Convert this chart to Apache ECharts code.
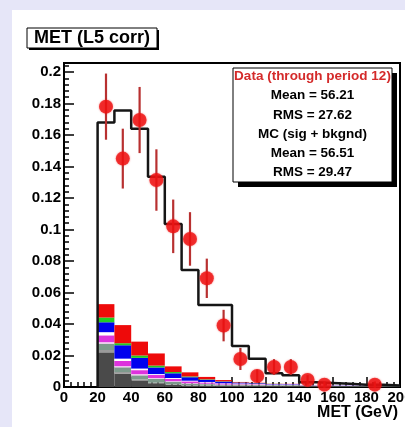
<!DOCTYPE html>
<html><head><meta charset="utf-8">
<script src="https://cdn.jsdelivr.net/npm/echarts@6/dist/echarts.min.js"></script>
<style>
html,body{margin:0;padding:0;background:#e6e6f8;width:405px;height:427px;overflow:hidden}
#panel{position:absolute;left:12px;top:10px;width:393px;height:417px;background:#fff}
#chart{position:absolute;left:0;top:0;width:405px;height:427px}
</style></head><body>
<div id="panel"></div><div id="chart"></div>
<script>
// ---- data ----
const binLowEdges = [20,30,40,50,60,70,80,90,100,110,120,130,140,150,160,170,180,190];
const binWidth = 10;
const mcTotal = [0.168,0.1755,0.164,0.1335,0.1035,0.0743,0.052,0.052,0.026,0.018,0.0088,0.0075,0.003,0.0025,0.002,0.0015,0.0015,0.001];
const dataValues = [0.178,0.145,0.1695,0.1314,0.102,0.094,0.069,0.039,0.0178,0.007,0.0127,0.0127,0.0045,0.0015,null,null,0.0015,null];
const dataErrors = [0.021,0.019,0.021,0.0195,0.017,0.017,0.0125,0.010,0.007,0.004,0.005,0.005,0.003,0.002,null,null,0.002,null];
// stacked background components, bottom to top
const bkgDarkGray = [0.022,0.0085,0.0042,0.0024,0.0014,0.0009,0.0008,0.0006,0.0008,0.0007,0.0006,0.0006,0.0005,0.0004,0.0004,0.0003,0.0003,0.0003];
const bkgGray     = [0.0015,0.001,0.0006,0.0004,0.0003,0.0002,0.0002,0.0002,0.0002,0.0002,0.0002,0.0002,0.0001,0.0001,0.0001,0.0001,0.0001,0.0001];
const bkgTeal     = [0.004,0.003,0.0026,0.0024,0.0016,0.001,0.0008,0.0006,0.0005,0.0004,0.0004,0.0004,0.0003,0.0002,0.0002,0.0002,0.0002,0.0002];
const bkgPink     = [0.001,0.0008,0.0008,0.0005,0.0004,0.0003,0.0003,0.0002,0.0002,0.0002,0.0002,0.0002,0.0001,0.0001,0.0001,0.0001,0.0001,0.0001];
const bkgMagenta  = [0.0043,0.0032,0.0025,0.0019,0.0015,0.0012,0.0008,0.0006,0.0004,0.0003,0.0002,0.0002,0.0001,0.0001,0.0001,0.0001,0.0001,0.0001];
const bkgWhite    = [0.002,0.0015,0.001,0.0006,0.0005,0.0004,0.0003,0.0002,0.0002,0.0002,0.0001,0.0001,0.0001,0.0001,0.0001,0.0001,0.0001,0.0001];
const bkgBlue     = [0.0063,0.0085,0.0068,0.0042,0.003,0.0022,0.0014,0.001,0.0005,0.0004,0.0002,0.0002,0.0001,0.0001,0.0001,0.0001,0,0];
const bkgGreen    = [0.003,0.0013,0.0015,0.0012,0.0008,0.0005,0.0003,0.0002,0.0001,0.0001,0.0001,0,0,0,0,0,0,0];
const bkgRed      = [0.0085,0.0115,0.0088,0.0077,0.0036,0.0026,0.0015,0.0008,0.0003,0.0002,0.0001,0.0001,0,0,0,0,0,0];
const xTickLabels = ['0','20','40','60','80','100','120','140','160','180','200'];
const statsLines = ['Data (through period 12)','Mean = 56.21','RMS = 27.62','MC (sig + bkgnd)','Mean = 56.51','RMS = 29.47'];
const chartTitle = 'MET (L5 corr)';
const xTitle = 'MET (GeV)';

// ---- styles ----
const FONT = '"Liberation Sans", Arial, Helvetica, sans-serif';
const layers = [
  {v: bkgDarkGray, c: '#4a4a4a'},
  {v: bkgGray, c: '#9a9a9a'},
  {v: bkgTeal, c: '#7d9a8c'},
  {v: bkgPink, c: '#f2c6f2'},
  {v: bkgMagenta, c: '#dd33dd'},
  {v: bkgWhite, c: '#ffffff'},
  {v: bkgBlue, c: '#0000ee'},
  {v: bkgGreen, c: '#22cc22'},
  {v: bkgRed, c: '#ee0a0a'}
];
const YMAX = 0.2057;

const series = [];
const base = binLowEdges.map(() => 0);
layers.forEach((L, li) => {
  const d = binLowEdges.map((lo, i) => {
    const b = base[i];
    base[i] += L.v[i];
    return [lo, lo + binWidth, b, b + L.v[i]];
  });
  series.push({
    type: 'custom', z: 2, silent: true,
    encode: {x: [0, 1], y: [2, 3]},
    data: d,
    renderItem: (params, api) => {
      const p0 = api.coord([api.value(0), api.value(3)]);
      const p1 = api.coord([api.value(1), api.value(2)]);
      return {type: 'rect', shape: {x: p0[0], y: p0[1], width: p1[0] - p0[0], height: p1[1] - p0[1]},
        style: {fill: L.c}};
    }
  });
});

// MC step histogram outline
const stepPts = [[binLowEdges[0], 0]];
binLowEdges.forEach((lo, i) => { stepPts.push([lo, mcTotal[i]]); stepPts.push([lo + binWidth, mcTotal[i]]); });
series.push({type: 'line', data: stepPts, symbol: 'none', z: 5, silent: true,
  lineStyle: {color: '#151515', width: 2.5}});

// error bars
const errData = [];
binLowEdges.forEach((lo, i) => {
  if (dataValues[i] != null) errData.push([lo + binWidth / 2, dataValues[i] - dataErrors[i], dataValues[i] + dataErrors[i]]);
});
series.push({type: 'custom', z: 6, silent: true, encode: {x: 0, y: [1, 2]}, data: errData,
  renderItem: (params, api) => {
    const a = api.coord([api.value(0), api.value(1)]);
    const b = api.coord([api.value(0), api.value(2)]);
    return {type: 'line', shape: {x1: a[0], y1: a[1], x2: b[0], y2: b[1]},
      style: {stroke: '#b83030', lineWidth: 2.2}};
  }});

// data points
const ptData = [];
binLowEdges.forEach((lo, i) => { if (dataValues[i] != null) ptData.push([lo + binWidth / 2, dataValues[i]]); });
series.push({type: 'scatter', data: ptData, symbol: 'circle', symbolSize: 14, z: 8, silent: true,
  itemStyle: {color: '#ee1010', shadowBlur: 2, shadowColor: 'rgba(238,16,16,0.6)'}});

const chart = echarts.init(document.getElementById('chart'), null, {renderer: 'canvas'});
const labelStyle = {color: '#000', fontWeight: 'bold', fontSize: 15, fontFamily: FONT};
chart.setOption({
  animation: false,
  backgroundColor: 'transparent',
  grid: {left: 64, right: 5, top: 63, bottom: 40, show: true, borderColor: '#000', borderWidth: 2,
    backgroundColor: 'transparent', containLabel: false, outerBoundsMode: 'none'},
  xAxis: [{type: 'value', min: 0, max: 200, interval: 20,
    axisLine: {show: true, onZero: false, lineStyle: {color: '#000', width: 2}},
    axisTick: {show: true, inside: true, length: 10, lineStyle: {color: '#000', width: 1.5}},
    minorTick: {show: true, splitNumber: 5, length: 5, lineStyle: {color: '#000', width: 1.5}},
    axisLabel: Object.assign({margin: 3, formatter: (v) => xTickLabels[Math.round(v / 20)] || ''}, labelStyle),
    splitLine: {show: false}}],
  yAxis: [{type: 'value', min: 0, max: YMAX, interval: 0.02, position: 'left',
    axisLine: {show: true, onZero: false, lineStyle: {color: '#000', width: 2}},
    axisTick: {show: true, inside: true, length: 10, lineStyle: {color: '#000', width: 1.5}},
    axisLabel: Object.assign({margin: 3, formatter: (v) => {
      const k = Math.round(v / 0.02);
      if (Math.abs(v - k * 0.02) > 1e-9) return '';
      return String(parseFloat((k * 0.02).toFixed(2)));
    }}, labelStyle),
    splitLine: {show: false}},
   {type: 'value', min: 0, max: YMAX, interval: 0.004, position: 'left', offset: 0,
    axisLine: {show: false},
    axisTick: {show: true, inside: true, length: 5, lineStyle: {color: '#000', width: 1.5}},
    axisLabel: {show: false}, splitLine: {show: false}}],
  series: series,
  graphic: [
    {type: 'rect', z: 100, shape: {x: 29, y: 30, width: 130, height: 20}, style: {fill: '#000'}},
    {type: 'rect', z: 101, shape: {x: 27, y: 28, width: 130, height: 20}, style: {fill: '#fff', stroke: '#000', lineWidth: 1}},
    {type: 'text', z: 102, x: 92, y: 38, style: {text: chartTitle, fill: '#000', font: 'bold 18px ' + FONT, textAlign: 'center', textVerticalAlign: 'middle'}},
    {type: 'rect', z: 100, shape: {x: 238, y: 73, width: 159, height: 114}, style: {fill: '#000'}},
    {type: 'rect', z: 101, shape: {x: 233, y: 68, width: 159, height: 114}, style: {fill: '#fff', stroke: '#000', lineWidth: 1}},
  ].concat(statsLines.map((t, i) => ({type: 'text', z: 102, x: 312.5, y: 76.5 + i * 19.2,
    style: {text: t, fill: i === 0 ? '#d42a2a' : '#000', font: 'bold 13.5px ' + FONT, textAlign: 'center', textVerticalAlign: 'middle'}})))
  .concat([{type: 'text', z: 102, x: 398, y: 413, style: {text: xTitle, fill: '#000', font: 'bold 16px ' + FONT, textAlign: 'right', textVerticalAlign: 'middle'}}])
});
</script>
</body></html>
